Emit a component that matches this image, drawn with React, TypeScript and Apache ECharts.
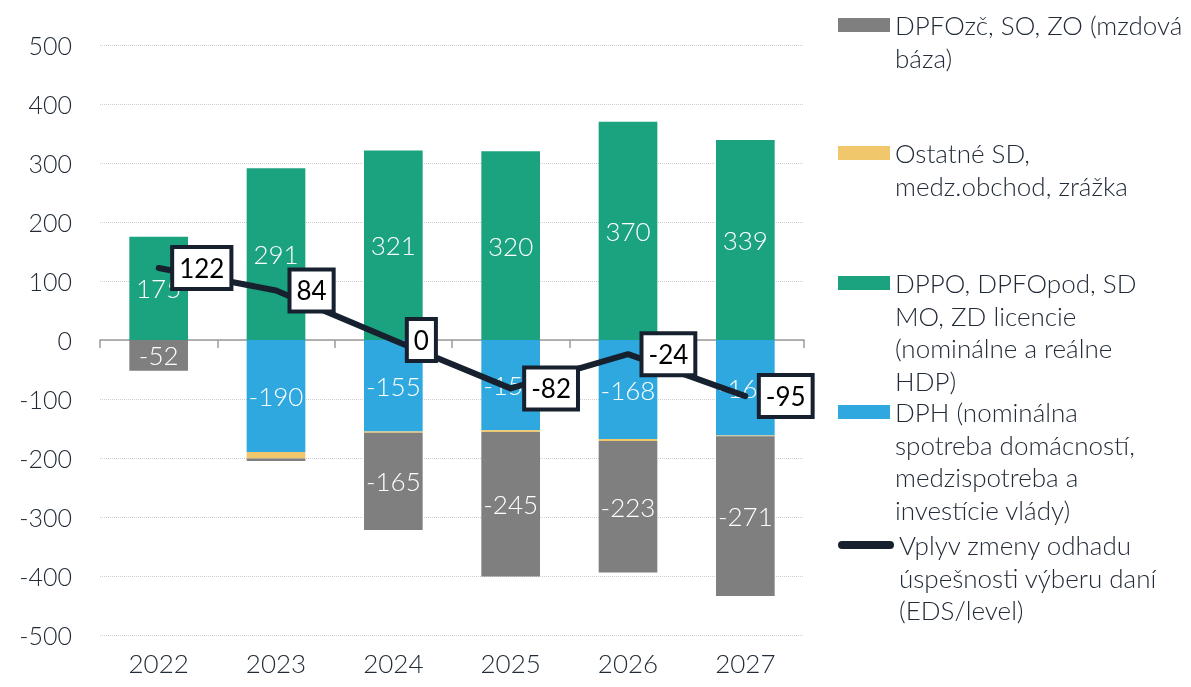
import React, { useEffect, useRef } from "react";
import * as echarts from "echarts";

const categories = ["2022", "2023", "2024", "2025", "2026", "2027"];
const dppo = [175, 291, 321, 320, 370, 339];
const dph = [0, -190, -155, -153, -168, -162];
const ostatne = [0, -11, -2, -3, -3, -1];
const dpfo = [-52, -4, -165, -245, -223, -271];
const eds = [122, 84, 0, -82, -24, -95];
const yTicks = { min: -500, max: 500, interval: 100 };

const names = {
  dpfo: "DPFOzč, SO, ZO (mzdová báza)",
  ost: "Ostatné SD, medz.obchod, zrážka",
  dppo: "DPPO, DPFOpod, SD MO, ZD licencie (nominálne a reálne HDP)",
  dph: "DPH (nominálna spotreba domácností, medzispotreba a investície vlády)",
  eds: "Vplyv zmeny odhadu úspešnosti výberu daní (EDS/level)",
};
const legendLines: Record<string, string[]> = {
  [names.dpfo]: ["DPFOzč, SO, ZO (mzdová", "báza)"],
  [names.ost]: ["Ostatné SD,", "medz.obchod, zrážka"],
  [names.dppo]: ["DPPO, DPFOpod, SD", "MO, ZD licencie", "(nominálne a reálne", "HDP)"],
  [names.dph]: ["DPH (nominálna", "spotreba domácností,", "medzispotreba a", "investície vlády)"],
  [names.eds]: ["Vplyv zmeny odhadu", "úspešnosti výberu daní", "(EDS/level)"],
};
const legendCenters = [25, 153, 283, 412, 545];

const FONT = "Lato";
const LH = 32.6;
const TXT = "#222b38";

export default function App() {
  const ref = useRef<HTMLDivElement>(null);
  useEffect(() => {
    if (!ref.current) return;
    const chart = echarts.init(ref.current, null, { renderer: "svg" });
    const barLabel = {
      show: true,
      position: "inside",
      color: "#ffffff",
      fontFamily: FONT,
      fontWeight: 300,
      fontSize: 26,
      formatter: (p: any) => (Math.abs(p.value) >= 20 ? String(p.value) : ""),
    };
    const legendOrder = [names.dpfo, names.ost, names.dppo, names.dph, names.eds];
    const legends = legendOrder.map((n, i) => {
      const lines = legendLines[n];
      const N = lines.length;
      const total = (2 * N - 1) * LH;
      const isLine = n === names.eds;
      return {
        left: 833,
        top: legendCenters[i] - total / 2 - 5,
        orient: "vertical",
        data: [
          isLine
            ? { name: n, icon: "path://M4,0 L52,0 A4,4 0 0 1 52,8 L4,8 A4,4 0 0 1 4,0 Z" }
            : { name: n, icon: "rect" },
        ],
        itemWidth: isLine ? 56 : 52,
        itemHeight: isLine ? 8 : 14,
        formatter: () => "\n".repeat(N - 1) + lines.join("\n"),
        textStyle: {
          fontFamily: FONT,
          fontWeight: 300,
          fontSize: 26,
          color: TXT,
          lineHeight: LH,
        },
        selectedMode: false,
      };
    });
    chart.setOption({
      animation: false,
      grid: { left: 100, right: 387, top: 45, bottom: 52 },
      legend: legends,
      xAxis: [
        {
          type: "category",
          data: categories,
          position: "bottom",
          axisLine: { show: false, onZero: false },
          axisTick: { show: false },
          axisLabel: { fontFamily: FONT, fontWeight: 300, fontSize: 26, color: TXT, margin: 15 },
        },
        {
          type: "category",
          data: categories,
          position: "bottom",
          axisLine: { show: true, onZero: true, lineStyle: { color: "#9a9a9a", width: 1.5 } },
          axisTick: { show: true, length: 8, lineStyle: { color: "#9a9a9a", width: 1.5 } },
          axisLabel: { show: false },
        },
      ],
      yAxis: {
        type: "value",
        min: yTicks.min,
        max: yTicks.max,
        interval: yTicks.interval,
        axisLine: { show: false },
        axisTick: { show: false },
        axisLabel: { fontFamily: FONT, fontWeight: 300, fontSize: 25, color: TXT, margin: 28 },
        splitLine: { lineStyle: { color: "#cfcfcf", type: "dotted", width: 1 } },
      },
      series: [
        {
          name: names.dppo, type: "bar", stack: "s", data: dppo, barWidth: "50%",
          itemStyle: { color: "#1ba27e" }, label: barLabel, xAxisIndex: 0,
        },
        {
          name: names.dph, type: "bar", stack: "s", data: dph, barWidth: "50%",
          itemStyle: { color: "#2ea8df" }, label: barLabel, xAxisIndex: 0,
        },
        {
          name: names.ost, type: "bar", stack: "s", data: ostatne, barWidth: "50%",
          itemStyle: { color: "#f1c76b" }, xAxisIndex: 0,
        },
        {
          name: names.dpfo, type: "bar", stack: "s", data: dpfo, barWidth: "50%",
          itemStyle: { color: "#7f7f7f" }, label: barLabel, xAxisIndex: 0,
        },
        {
          name: names.eds, type: "line", data: eds, xAxisIndex: 0,
          symbol: "circle", symbolSize: 1, showSymbol: true,
          lineStyle: { color: "#17202e", width: 6, cap: "round", join: "round" },
          itemStyle: { color: "#17202e" },
          z: 10,
          label: {
            show: true,
            position: "right",
            distance: 15,
            color: "#000000",
            fontFamily: FONT,
            fontSize: 26,
            backgroundColor: "#ffffff",
            borderColor: "#17202e",
            borderWidth: 4,
            padding: [7, 5, 5, 5],
          },
        },
      ],
    });
    return () => chart.dispose();
  }, []);
  return (
    <div
      ref={ref}
      style={{ position: "fixed", left: 0, top: 0, width: 1191, height: 687 }}
    />
  );
}
